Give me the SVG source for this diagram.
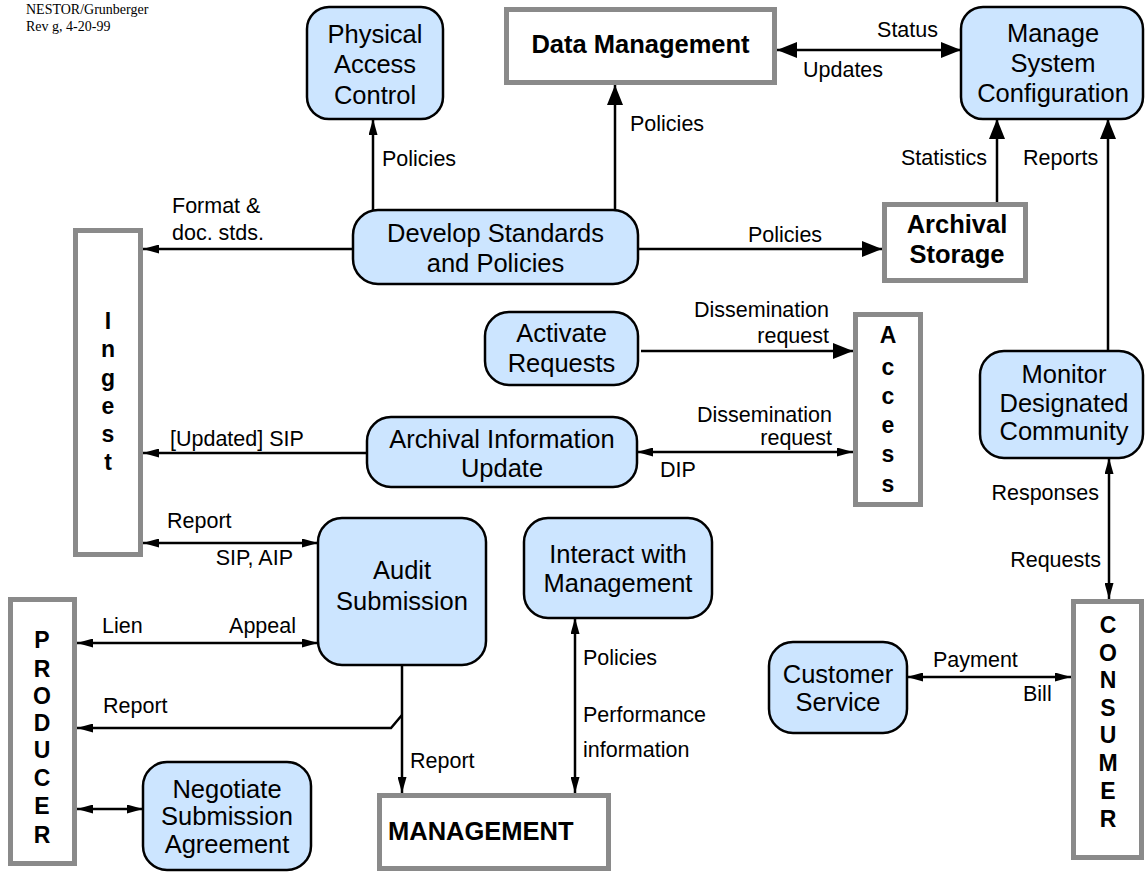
<svg xmlns="http://www.w3.org/2000/svg" width="1145" height="873" viewBox="0 0 1145 873">
<style>
.proc{fill:#cce5ff;stroke:#000;stroke-width:2.5}
.ext{fill:#fff;stroke:#8a8a8a;stroke-width:5}
.nt{font-family:"Liberation Sans",Arial,sans-serif;font-size:25.5px;fill:#000;text-anchor:middle}
.bt{font-family:"Liberation Sans",Arial,sans-serif;font-size:25.5px;font-weight:bold;fill:#000;text-anchor:middle}
.vt{font-family:"Liberation Sans",Arial,sans-serif;font-size:23px;font-weight:bold;fill:#000;text-anchor:middle}
.lb{font-family:"Liberation Sans",Arial,sans-serif;font-size:21.5px;fill:#000}
.end{text-anchor:end}
.hd{font-family:"Liberation Serif","Times New Roman",serif;font-size:14px;fill:#000}
.c{fill:none;stroke:#000;stroke-width:2.5}
.cb{marker-end:url(#big)}
.cs{marker-end:url(#small)}
.db{marker-start:url(#big);marker-end:url(#big)}
.ds{marker-start:url(#small);marker-end:url(#small)}
</style>
<defs>
<marker id="big" markerUnits="userSpaceOnUse" viewBox="0 0 20 16" refX="20" refY="8" markerWidth="20" markerHeight="16" orient="auto-start-reverse"><path d="M0,0 L20,8 L0,16 z" fill="#000"/></marker>
<marker id="small" markerUnits="userSpaceOnUse" viewBox="0 0 16 9" refX="16" refY="4.5" markerWidth="16" markerHeight="9" orient="auto-start-reverse"><path d="M0,0 L16,4.5 L0,9 z" fill="#000"/></marker>
</defs>
<rect width="1145" height="873" fill="#fff"/>
<g id="header">
<text class="hd" x="26" y="14">NESTOR/Grunberger</text>
<text class="hd" x="26" y="31">Rev g, 4-20-99</text>
</g>
<g id="connectors">
<line class="c cs" x1="373" y1="210" x2="373" y2="119"/>
<line class="c cb" x1="615" y1="210" x2="615" y2="85"/>
<line class="c db" x1="777" y1="50" x2="961" y2="50"/>
<line class="c cs" x1="353" y1="249" x2="143" y2="249"/>
<line class="c cb" x1="638" y1="249" x2="882" y2="249"/>
<line class="c cb" x1="997" y1="202" x2="997" y2="119"/>
<line class="c cb" x1="1108" y1="351" x2="1108" y2="119"/>
<line class="c cb" x1="641" y1="351" x2="853" y2="351"/>
<line class="c cs" x1="367" y1="453" x2="143" y2="453"/>
<line class="c ds" x1="637" y1="452" x2="853" y2="452"/>
<line class="c ds" x1="143" y1="543" x2="318" y2="543"/>
<line class="c ds" x1="77" y1="643" x2="318" y2="643"/>
<line class="c cs" x1="402" y1="665" x2="402" y2="793"/>
<path class="c cs" d="M402,715 L391,728 L77,728"/>
<line class="c ds" x1="77" y1="809" x2="143" y2="809"/>
<line class="c ds" x1="575" y1="618" x2="575" y2="793"/>
<line class="c ds" x1="1109" y1="458" x2="1109" y2="599"/>
<line class="c ds" x1="907" y1="677" x2="1071" y2="677"/>
</g>
<g id="labels">
<text class="lb" x="382" y="166">Policies</text>
<text class="lb" x="630" y="131">Policies</text>
<text class="lb end" x="938" y="37">Status</text>
<text class="lb" x="803" y="77">Updates</text>
<text class="lb end" x="987" y="165">Statistics</text>
<text class="lb" x="1023" y="165">Reports</text>
<text class="lb" x="172" y="213">Format &amp;</text>
<text class="lb" x="172" y="240">doc. stds.</text>
<text class="lb" x="748" y="242">Policies</text>
<text class="lb end" x="829" y="317">Dissemination</text>
<text class="lb end" x="829" y="343">request</text>
<text class="lb end" x="832" y="422">Dissemination</text>
<text class="lb end" x="832" y="445">request</text>
<text class="lb" x="660" y="477">DIP</text>
<text class="lb" x="170" y="446">[Updated] SIP</text>
<text class="lb" x="167" y="528">Report</text>
<text class="lb end" x="293" y="565">SIP, AIP</text>
<text class="lb" x="102" y="633">Lien</text>
<text class="lb end" x="296" y="633">Appeal</text>
<text class="lb" x="103" y="713">Report</text>
<text class="lb" x="410" y="768">Report</text>
<text class="lb" x="583" y="665">Policies</text>
<text class="lb" x="583" y="722">Performance</text>
<text class="lb" x="583" y="757">information</text>
<text class="lb end" x="1099" y="500">Responses</text>
<text class="lb end" x="1101" y="567">Requests</text>
<text class="lb" x="933" y="667">Payment</text>
<text class="lb" x="1023" y="701">Bill</text>
</g>
<g id="physical-access-control">
<rect class="proc" x="307" y="7" width="136" height="112" rx="22"/>
<text class="nt" x="375" y="43">Physical</text>
<text class="nt" x="375" y="73">Access</text>
<text class="nt" x="375" y="104">Control</text>
</g>
<g id="data-management">
<rect class="ext" x="506.5" y="9.5" width="268" height="73"/>
<text class="bt" x="640.5" y="53">Data Management</text>
</g>
<g id="manage-system-configuration">
<rect class="proc" x="961" y="7" width="182" height="112" rx="22"/>
<text class="nt" x="1053" y="42">Manage</text>
<text class="nt" x="1053" y="72">System</text>
<text class="nt" x="1053" y="102">Configuration</text>
</g>
<g id="develop-standards">
<rect class="proc" x="353" y="210" width="285" height="74" rx="25"/>
<text class="nt" x="495.5" y="242">Develop Standards</text>
<text class="nt" x="495.5" y="272">and Policies</text>
</g>
<g id="archival-storage">
<rect class="ext" x="884.5" y="204.5" width="141" height="76"/>
<text class="bt" x="957" y="233">Archival</text>
<text class="bt" x="957" y="263">Storage</text>
</g>
<g id="ingest">
<rect class="ext" x="75.5" y="230.5" width="65" height="324"/>
<text class="vt" x="108" y="329">I</text>
<text class="vt" x="108" y="357">n</text>
<text class="vt" x="108" y="386">g</text>
<text class="vt" x="108" y="414">e</text>
<text class="vt" x="108" y="442">s</text>
<text class="vt" x="108" y="470">t</text>
</g>
<g id="activate-requests">
<rect class="proc" x="485" y="312" width="153" height="73" rx="24"/>
<text class="nt" x="561.5" y="342">Activate</text>
<text class="nt" x="561.5" y="372">Requests</text>
</g>
<g id="access">
<rect class="ext" x="855.5" y="314.5" width="65" height="190"/>
<text class="vt" x="888" y="343">A</text>
<text class="vt" x="888" y="375">c</text>
<text class="vt" x="888" y="404">c</text>
<text class="vt" x="888" y="433">e</text>
<text class="vt" x="888" y="462">s</text>
<text class="vt" x="888" y="492">s</text>
</g>
<g id="archival-information-update">
<rect class="proc" x="367" y="417" width="270" height="70" rx="24"/>
<text class="nt" x="502" y="448">Archival Information</text>
<text class="nt" x="502" y="477">Update</text>
</g>
<g id="monitor-designated-community">
<rect class="proc" x="980" y="351" width="163" height="107" rx="24"/>
<text class="nt" x="1064" y="383">Monitor</text>
<text class="nt" x="1064" y="412">Designated</text>
<text class="nt" x="1064" y="440">Community</text>
</g>
<g id="audit-submission">
<rect class="proc" x="318" y="518" width="168" height="147" rx="24"/>
<text class="nt" x="402" y="579">Audit</text>
<text class="nt" x="402" y="610">Submission</text>
</g>
<g id="interact-with-management">
<rect class="proc" x="524" y="518" width="188" height="100" rx="24"/>
<text class="nt" x="618" y="563">Interact with</text>
<text class="nt" x="618" y="592">Management</text>
</g>
<g id="producer">
<rect class="ext" x="10.5" y="599.5" width="64" height="264"/>
<text class="vt" x="42" y="648">P</text>
<text class="vt" x="42" y="677">R</text>
<text class="vt" x="42" y="704">O</text>
<text class="vt" x="42" y="731">D</text>
<text class="vt" x="42" y="758">U</text>
<text class="vt" x="42" y="786">C</text>
<text class="vt" x="42" y="814">E</text>
<text class="vt" x="42" y="843">R</text>
</g>
<g id="customer-service">
<rect class="proc" x="769" y="642" width="138" height="91" rx="24"/>
<text class="nt" x="838" y="683">Customer</text>
<text class="nt" x="838" y="711">Service</text>
</g>
<g id="consumer">
<rect class="ext" x="1073.5" y="601.5" width="68" height="256"/>
<text class="vt" x="1108" y="633">C</text>
<text class="vt" x="1108" y="661">O</text>
<text class="vt" x="1108" y="688">N</text>
<text class="vt" x="1108" y="716">S</text>
<text class="vt" x="1108" y="743">U</text>
<text class="vt" x="1108" y="771">M</text>
<text class="vt" x="1108" y="799">E</text>
<text class="vt" x="1108" y="827">R</text>
</g>
<g id="negotiate-submission-agreement">
<rect class="proc" x="143" y="762" width="168" height="108" rx="24"/>
<text class="nt" x="227" y="798">Negotiate</text>
<text class="nt" x="227" y="825">Submission</text>
<text class="nt" x="227" y="853">Agreement</text>
</g>
<g id="management">
<rect class="ext" x="379.5" y="795.5" width="229" height="73"/>
<text class="bt" x="388" y="840" style="text-anchor:start">MANAGEMENT</text>
</g>
</svg>
